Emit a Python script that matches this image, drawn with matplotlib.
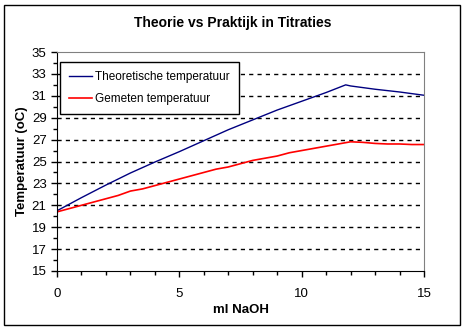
import matplotlib
matplotlib.use("Agg")
from matplotlib import pyplot as plt
from matplotlib.patches import Rectangle
from matplotlib.ticker import MultipleLocator

plt.rcParams['font.family'] = ['Liberation Sans', 'DejaVu Sans']

# theoretische temperatuur
theo_x = [0, 1, 2, 3, 4, 5, 6, 7, 8, 9, 10, 11, 11.8, 12, 13, 14, 15]
theo_y = [20.5, 21.7, 22.85, 23.95, 24.95, 25.9, 26.9, 27.9, 28.8, 29.7,
          30.5, 31.3, 32.0, 31.9, 31.6, 31.35, 31.05]

# gemeten temperatuur
meas_x = [0, 0.5, 1, 1.5, 2, 2.5, 3, 3.5, 4, 4.5, 5, 5.5, 6, 6.5, 7, 7.5,
          8, 8.5, 9, 9.5, 10, 10.5, 11, 11.5, 12, 12.5, 13, 13.5, 14, 14.5, 15]
meas_y = [20.4, 20.7, 21.0, 21.3, 21.6, 21.9, 22.3, 22.5, 22.8, 23.1, 23.4,
          23.7, 24.0, 24.3, 24.5, 24.8, 25.1, 25.3, 25.5, 25.8, 26.0, 26.2,
          26.4, 26.6, 26.8, 26.75, 26.65, 26.6, 26.6, 26.55, 26.55]

fig = plt.figure(figsize=(4.65, 3.3), dpi=100)
ax = fig.add_axes([0.1226, 0.1788, 0.7892, 0.6636])

ax.plot(theo_x, theo_y, color='#000080', lw=1, label='Theoretische temperatuur')
ax.plot(meas_x, meas_y, color='#FF0000', lw=1.2, label='Gemeten temperatuur')

ax.set_xlim(0, 15)
ax.set_ylim(15, 35)
ax.xaxis.set_major_locator(MultipleLocator(5))
ax.xaxis.set_minor_locator(MultipleLocator(1))
ax.yaxis.set_major_locator(MultipleLocator(2))
ax.yaxis.set_minor_locator(MultipleLocator(1))
ax.set_yticks(range(15, 36, 2))
ax.tick_params(axis='both', which='major', labelsize=9.5, length=4, width=1)
ax.tick_params(axis='both', which='minor', length=3, width=1)
ax.tick_params(axis='x', which='major', pad=8)

for yv in range(17, 35, 2):
    ax.axhline(yv, color='black', lw=1, ls=(0, (3, 3)), zorder=0)

ax.spines['top'].set_color('#808080')
ax.spines['right'].set_color('#808080')

ax.set_xlabel('ml NaOH', fontsize=9.5, fontweight='bold')
ax.set_ylabel('Temperatuur (oC)', fontsize=9.5, fontweight='bold')
ax.xaxis.set_label_coords(0.5, -0.152)
ax.yaxis.set_label_coords(-0.078, 0.5)
fig.text(0.5, 0.93, 'Theorie vs Praktijk in Titraties', ha='center', va='center',
         fontsize=10, fontweight='bold')

leg = ax.legend(loc='upper left', bbox_to_anchor=(60 / 465, 1 - 62 / 330),
                bbox_transform=fig.transFigure, fancybox=False, framealpha=1,
                edgecolor='black', fontsize=8.5, handlelength=2.0, labelspacing=0.9,
                borderpad=0.75, handletextpad=0.25, borderaxespad=0)
leg.get_frame().set_linewidth(1)

fig.patches.append(Rectangle((4 / 465, 5 / 330), 456 / 465, 320 / 330,
                             transform=fig.transFigure, fill=False,
                             edgecolor='black', lw=1))

fig.savefig('out.png', dpi=100)
